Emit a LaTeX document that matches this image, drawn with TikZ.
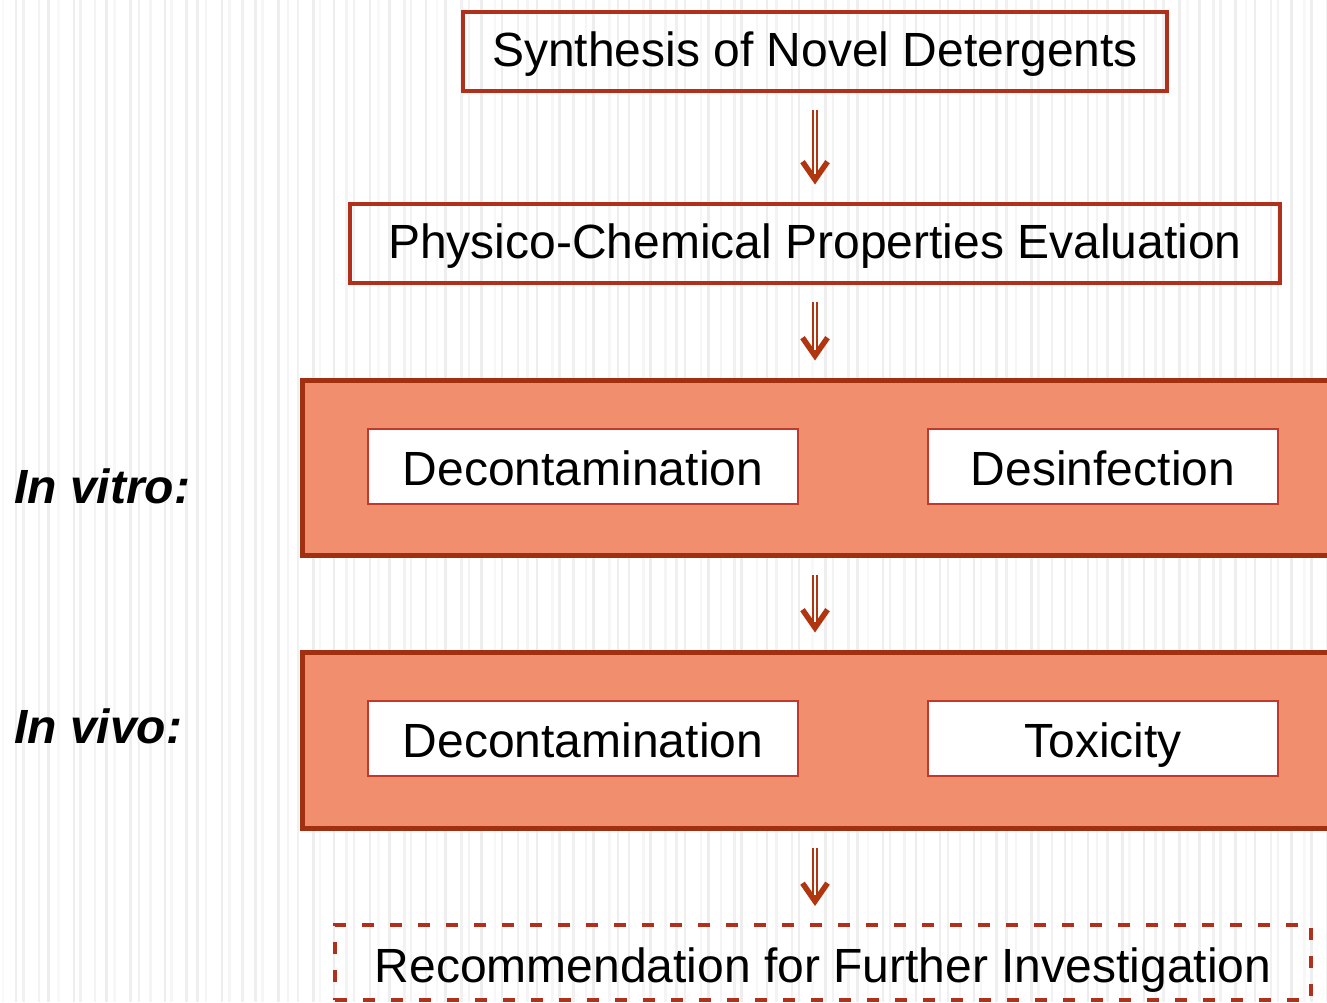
\documentclass[tikz,border=0pt]{standalone}
\usepackage{fontspec}
\setmainfont{Liberation Sans}
\usetikzlibrary{arrows.meta}
\definecolor{boxred}{HTML}{B0301C}
\definecolor{panelfill}{HTML}{F08E6E}
\definecolor{paneledge}{HTML}{A0300F}
\definecolor{innerred}{HTML}{C0392B}
\definecolor{arrred}{HTML}{B0360F}
\begin{document}
\begin{tikzpicture}[x=1pt,y=-1pt,
  every node/.style={font=\fontsize{48pt}{56pt}\selectfont, inner sep=0pt},
  topbox/.style={draw=boxred, line width=4pt, text height=34pt, text depth=4pt, minimum height=79pt},
  panel/.style={draw=paneledge, fill=panelfill, line width=5pt, anchor=north west, minimum width=1060pt},
  innerbox/.style={draw=innerred, fill=white, line width=2pt, text height=37pt, text depth=0pt, minimum height=75pt},
  recbox/.style={draw=boxred, line width=4pt, dash pattern=on 12pt off 16pt, text height=39pt, text depth=0pt, minimum height=75pt, minimum width=976pt},
  sidelabel/.style={anchor=base west, font=\fontsize{48pt}{56pt}\selectfont\bfseries\itshape},
  arrout/.style={draw=arrred, line width=6pt, shorten <=17pt, shorten >=17pt, -{Straight Barb[length=18pt,width=25pt,line width=5.5pt]}},
  arrin/.style={draw=white, line width=1.8pt, shorten <=17pt, shorten >=28pt},
  stripe/.style={line width=2.5pt},
]
\useasboundingbox (0,0) rectangle (1327,1002);
\clip (0,0) rectangle (1327,1002);
\fill[white] (0,0) rectangle (1327,1002);
\foreach \i in {0,...,116} {
  \pgfmathsetmacro\xx{3+\i*11.4+2.5*sin(\i*137)}
  \pgfmathsetmacro\gg{2.5+4.5*abs(sin(\i*71))}
  \draw[stripe, black!\gg] (\xx,0) -- (\xx,1002);
}

% top boxes
\node[topbox, minimum width=704pt] (b1) at (815,51) {Synthesis of Novel Detergents};
\node[topbox, minimum width=930pt] (b2) at (815,243) {Physico-Chemical Properties Evaluation};

% panels
\node[panel, minimum height=175pt] (p1) at (300,377.5) {};
\node[panel, minimum height=176pt] (p2) at (300,649.5) {};

% inner boxes
\node[innerbox, minimum width=430pt] (d1) at (583,466.5) {Decontamination};
\node[innerbox, minimum width=350pt] (ds) at (1103,466.5) {Desinfection};
\node[innerbox, minimum width=430pt] (d2) at (583,738.5) {Decontamination};
\node[innerbox, minimum width=350pt] (tx) at (1103,738.5) {Toxicity};

% side labels
\node[sidelabel] (lvitro) at (14,503) {In vitro:};
\node[sidelabel] (lvivo) at (14,743) {In vivo:};

% recommendation
\node[recbox] (rec) at (823,962.5) {Recommendation for Further Investigation};

% arrows
\draw[arrout] (b1.south) -- (b2.north);
\draw[arrin] (b1.south) -- (b2.north);
\draw[arrout] (b2.south) -- (b2.south |- p1.north);
\draw[arrin] (b2.south) -- (b2.south |- p1.north);
\draw[arrout] (p1.south -| b2.south) -- (p2.north -| b2.south);
\draw[arrin] (p1.south -| b2.south) -- (p2.north -| b2.south);
\draw[arrout] (p2.south -| b2.south) -- (rec.north -| b2.south);
\draw[arrin] (p2.south -| b2.south) -- (rec.north -| b2.south);
\end{tikzpicture}
\end{document}
